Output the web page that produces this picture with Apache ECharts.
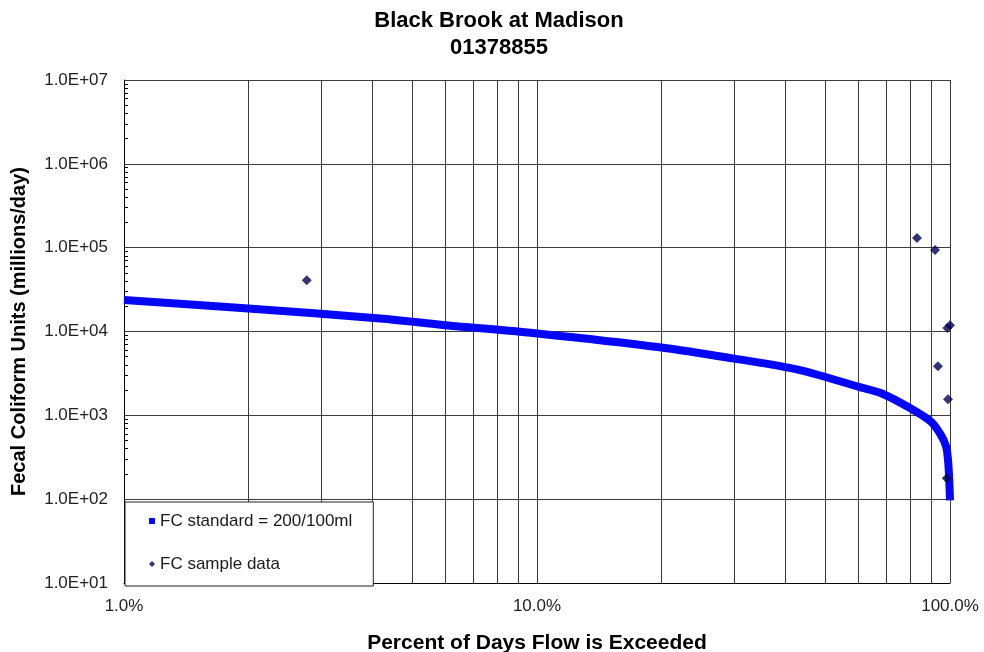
<!DOCTYPE html>
<html><head><meta charset="utf-8">
<script src="https://cdn.jsdelivr.net/npm/echarts@6/dist/echarts.min.js"></script>
<style>html,body{margin:0;padding:0;background:#fff}#c{width:984px;height:652px}</style>
</head><body><div id="c"></div>
<script>
// FC standard curve (percent of days exceeded, load in millions/day)
const curvePct = [1, 2, 4.17, 6, 10, 20, 29.8, 43.3, 60.5, 68.4, 80, 90, 95.1, 97.9, 98.9, 99.5, 100];
const curveVal = [23700, 18800, 14300, 11900, 9490, 6460, 4780, 3470, 2170, 1820, 1220, 838, 580, 421, 292, 185, 97];
// FC sample data
const samplePct = [2.77, 83.2, 92, 98.5, 100, 93.5, 98.9, 98.2];
const sampleVal = [41000, 130000, 93600, 11000, 11900, 3860, 1560, 178];
// axis ticks
const xGridValues = [1,2,3,4,5,6,7,8,9,10,20,30,40,50,60,70,80,90,100];
const xLabelValues = [1, 10, 100];
const yMajorValues = [10, 100, 1000, 10000, 100000, 1000000, 10000000];
const yMinorValues = [];
for (let d = 10; d < 1e7; d *= 10) { for (let k = 2; k <= 9; k++) yMinorValues.push(d * k); }

const FONT = '"Liberation Sans", Arial, sans-serif';
const chart = echarts.init(document.getElementById('c'), null, {renderer: 'canvas'});
const curveData = curvePct.map((p, i) => [p, curveVal[i]]);
const sampleData = samplePct.map((p, i) => [p, sampleVal[i]]);

chart.setOption({
  animation: false,
  backgroundColor: '#fff',
  title: {
    text: 'Black Brook at Madison\n01378855',
    left: 499, top: 7, padding: 0, textAlign: 'center',
    textStyle: {fontFamily: FONT, fontSize: 22, fontWeight: 'bold', color: '#000', lineHeight: 27}
  },
  grid: {left: 124, right: 34, top: 80, bottom: 69, containLabel: false, outerBoundsMode: 'none'},
  legend: {
    orient: 'vertical', left: 125, top: 502,
    backgroundColor: '#fff', borderColor: '#222', borderWidth: 1,
    padding: [9, 21, 12, 24], itemGap: 23, itemWidth: 6, itemHeight: 6,
    textStyle: {fontFamily: FONT, fontSize: 17, color: '#1a1a1a', lineHeight: 20},
    data: [{name: 'FC standard = 200/100ml', icon: 'rect'}, {name: 'FC sample data', icon: 'diamond'}]
  },
  xAxis: {
    type: 'log', logBase: 10, min: 1, max: 100,
    name: 'Percent of Days Flow is Exceeded', nameLocation: 'middle', nameGap: 50,
    nameTextStyle: {fontFamily: FONT, fontSize: 21, fontWeight: 'bold', color: '#000'},
    axisLine: {show: true, lineStyle: {color: '#000', width: 1}},
    axisTick: {show: false, customValues: xGridValues},
    axisLabel: {customValues: xLabelValues, formatter: v => Number(v).toFixed(1) + '%',
      fontFamily: FONT, fontSize: 17, color: '#222', margin: 15},
    splitLine: {show: true, lineStyle: {color: '#3a3a3a', width: 1}}
  },
  yAxis: [{
    type: 'log', logBase: 10, min: 10, max: 1e7,
    name: 'Fecal Coliform Units (millions/day)', nameLocation: 'middle', nameGap: 95,
    nameTextStyle: {fontFamily: FONT, fontSize: 20, fontWeight: 'bold', color: '#000'},
    axisLine: {show: true, lineStyle: {color: '#000', width: 1}},
    axisTick: {show: false, customValues: yMajorValues},
    axisLabel: {customValues: yMajorValues,
      formatter: v => '1.0E+' + String(Math.round(Math.log10(v))).padStart(2, '0'),
      fontFamily: FONT, fontSize: 17, color: '#222', margin: 16},
    splitLine: {show: true, lineStyle: {color: '#3a3a3a', width: 1}}
  }, {
    type: 'log', logBase: 10, min: 10, max: 1e7, position: 'left',
    axisLine: {show: false}, axisLabel: {show: false}, splitLine: {show: false},
    axisTick: {show: true, inside: true, length: 4, customValues: yMinorValues, lineStyle: {color: '#000'}}
  }],
  series: [{
    name: 'FC standard = 200/100ml', type: 'line', xAxisIndex: 0, yAxisIndex: 0,
    data: curveData, showSymbol: false, symbol: 'rect', smooth: 0.3,
    lineStyle: {color: '#0505f8', width: 8, cap: 'butt', join: 'round'},
    itemStyle: {color: '#0505f8'}, z: 3
  }, {
    name: 'FC sample data', type: 'scatter', xAxisIndex: 0, yAxisIndex: 0,
    data: sampleData, symbol: 'diamond', symbolSize: 10,
    itemStyle: {color: '#000055'}, z: 4
  }]
});
</script></body></html>
